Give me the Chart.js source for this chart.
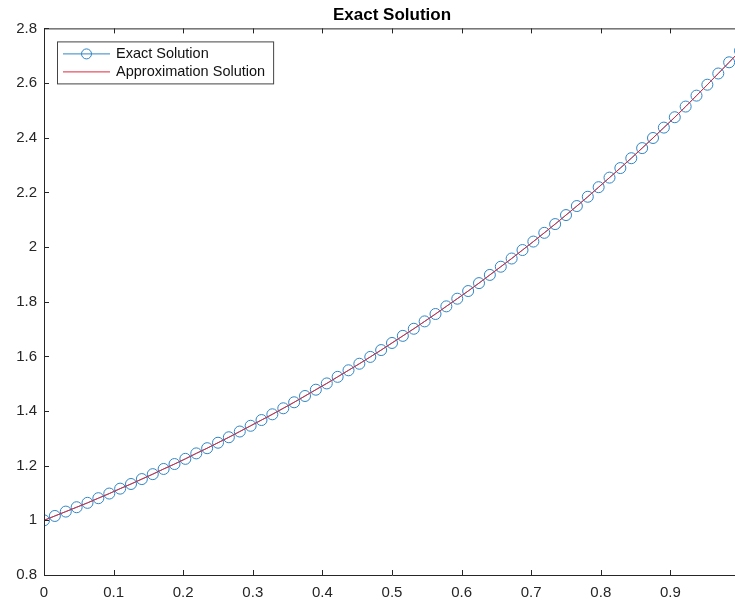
<!DOCTYPE html>
<html>
<head>
<meta charset="utf-8">
<script src="https://cdn.jsdelivr.net/npm/chart.js@4"></script>
<style>
  html, body { margin: 0; padding: 0; background: #fff; overflow: hidden; }
  #wrap { width: 800px; height: 604px; }
</style>
</head>
<body>
<div id="wrap"><canvas id="exactChart" width="800" height="604"></canvas></div>
<script>
// x grid, step 1/64
const xValues = [0, 0.0156, 0.0313, 0.0469, 0.0625, 0.0781, 0.0938, 0.1094, 0.125, 0.1406,
  0.1563, 0.1719, 0.1875, 0.2031, 0.2188, 0.2344, 0.25, 0.2656, 0.2813, 0.2969,
  0.3125, 0.3281, 0.3438, 0.3594, 0.375, 0.3906, 0.4063, 0.4219, 0.4375, 0.4531,
  0.4688, 0.4844, 0.5, 0.5156, 0.5313, 0.5469, 0.5625, 0.5781, 0.5938, 0.6094,
  0.625, 0.6406, 0.6563, 0.6719, 0.6875, 0.7031, 0.7188, 0.7344, 0.75, 0.7656,
  0.7813, 0.7969, 0.8125, 0.8281, 0.8438, 0.8594, 0.875, 0.8906, 0.9063, 0.9219,
  0.9375, 0.9531, 0.9688, 0.9844, 1];

const exactValues = [1.000, 1.016, 1.032, 1.048, 1.064, 1.081, 1.098, 1.116, 1.133, 1.151,
  1.169, 1.188, 1.206, 1.225, 1.245, 1.264, 1.284, 1.304, 1.325, 1.346,
  1.367, 1.388, 1.410, 1.432, 1.455, 1.478, 1.501, 1.525, 1.549, 1.573,
  1.598, 1.623, 1.649, 1.675, 1.701, 1.728, 1.755, 1.783, 1.811, 1.839,
  1.868, 1.898, 1.928, 1.958, 1.989, 2.020, 2.052, 2.084, 2.117, 2.150,
  2.184, 2.219, 2.254, 2.289, 2.325, 2.362, 2.399, 2.437, 2.475, 2.514,
  2.554, 2.594, 2.635, 2.676, 2.718];

const approxValues = [1.000, 1.016, 1.032, 1.048, 1.064, 1.081, 1.098, 1.116, 1.133, 1.151,
  1.169, 1.188, 1.206, 1.225, 1.245, 1.264, 1.284, 1.304, 1.325, 1.346,
  1.367, 1.388, 1.410, 1.432, 1.455, 1.478, 1.501, 1.525, 1.549, 1.573,
  1.598, 1.623, 1.649, 1.675, 1.701, 1.728, 1.755, 1.783, 1.811, 1.839,
  1.868, 1.898, 1.928, 1.958, 1.989, 2.020, 2.052, 2.084, 2.117, 2.150,
  2.184, 2.219, 2.254, 2.289, 2.325, 2.362, 2.399, 2.437, 2.475, 2.514,
  2.554, 2.594, 2.635, 2.676, 2.718];

const xTicks = [0, 0.1, 0.2, 0.3, 0.4, 0.5, 0.6, 0.7, 0.8, 0.9, 1];
const yTicks = [0.8, 1, 1.2, 1.4, 1.6, 1.8, 2, 2.2, 2.4, 2.6, 2.8];

const seriesNames = ["Exact Solution", "Approximation Solution"];
const titleText = "Exact Solution";

const axisColor = "#262626";
const blue = "#2f86c6";
const red = "#e02a3c";
const fontFamily = "'Liberation Sans', Arial, Helvetica, sans-serif";

const toPoints = (ys) => ys.map((y, i) => ({ x: xValues[i], y: y }));

// box around the axes + inward tick marks, like matlab
const axesBox = {
  id: "axesBox",
  afterDatasetsDraw(chart) {
    const { ctx, chartArea: a, scales } = chart;
    const len = 5;
    ctx.save();
    ctx.strokeStyle = axisColor;
    ctx.lineWidth = 1;
    ctx.beginPath();
    ctx.rect(a.left + 0.5, a.top + 0.5, a.right - a.left, a.bottom - a.top);
    xTicks.forEach((t) => {
      const px = Math.round(scales.x.getPixelForValue(t)) + 0.5;
      ctx.moveTo(px, a.bottom);
      ctx.lineTo(px, a.bottom - len);
      ctx.moveTo(px, a.top);
      ctx.lineTo(px, a.top + len);
    });
    yTicks.forEach((t) => {
      const py = Math.round(scales.y.getPixelForValue(t)) + 0.5;
      ctx.moveTo(a.left, py);
      ctx.lineTo(a.left + len, py);
      ctx.moveTo(a.right, py);
      ctx.lineTo(a.right - len, py);
    });
    ctx.stroke();
    ctx.restore();
  },
};

// legend box in the upper left corner
const boxLegend = {
  id: "boxLegend",
  afterDraw(chart) {
    const { ctx, chartArea: a } = chart;
    const x0 = a.left + 13;
    const y0 = a.top + 13;
    const rowH = 18;
    const lineW = 47;
    ctx.save();
    ctx.font = "14.5px " + fontFamily;
    const textW = Math.max(...seriesNames.map((s) => ctx.measureText(s).width));
    const w = 6 + lineW + 6 + textW + 8;
    const h = 3 + rowH * 2 + 3;
    ctx.fillStyle = "#fff";
    ctx.fillRect(x0, y0, w, h);
    ctx.strokeStyle = "#444";
    ctx.lineWidth = 1;
    ctx.strokeRect(x0 + 0.5, y0 + 0.5, w, h);

    const colors = [blue, red];
    seriesNames.forEach((name, i) => {
      const cy = y0 + 3 + rowH * i + rowH / 2;
      ctx.strokeStyle = colors[i];
      ctx.lineWidth = 1;
      ctx.beginPath();
      ctx.moveTo(x0 + 6, cy + 0.5);
      ctx.lineTo(x0 + 6 + lineW, cy + 0.5);
      ctx.stroke();
      if (i === 0) {
        ctx.beginPath();
        ctx.arc(x0 + 6 + lineW / 2, cy + 0.5, 5, 0, Math.PI * 2);
        ctx.stroke();
      }
      ctx.fillStyle = "#111";
      ctx.textBaseline = "middle";
      ctx.fillText(name, x0 + 6 + lineW + 6, cy + 1);
    });
    ctx.restore();
  },
};

const fmt = (v) => String(+Number(v).toFixed(2));

new Chart(document.getElementById("exactChart"), {
  type: "line",
  data: {
    datasets: [
      {
        label: seriesNames[0],
        data: toPoints(exactValues),
        borderColor: blue,
        borderWidth: 1,
        pointRadius: 5.5,
        pointBorderWidth: 1,
        pointBorderColor: blue,
        pointBackgroundColor: "rgba(0,0,0,0)",
        fill: false,
        tension: 0,
        order: 2,
      },
      {
        label: seriesNames[1],
        data: toPoints(approxValues),
        borderColor: red,
        borderWidth: 1,
        pointRadius: 0,
        fill: false,
        tension: 0,
        order: 1,
      },
    ],
  },
  options: {
    responsive: false,
    animation: false,
    events: [],
    layout: { padding: { top: 0, right: 60, bottom: 0, left: 0 } },
    plugins: {
      legend: { display: false },
      tooltip: { enabled: false },
      title: {
        display: true,
        text: titleText,
        fullSize: false,
        color: "#000",
        font: { family: fontFamily, size: 17, weight: "bold", lineHeight: 1.2 },
        padding: { top: 5, bottom: 3 },
      },
    },
    scales: {
      x: {
        type: "linear",
        min: 0,
        max: 1,
        grid: { display: false, drawTicks: false },
        border: { display: false },
        afterBuildTicks: (s) => { s.ticks = xTicks.map((v) => ({ value: v })); },
        afterFit: (s) => { s.height = 29; },
        ticks: {
          color: axisColor,
          padding: 9,
          maxRotation: 0,
          autoSkip: false,
          font: { family: fontFamily, size: 15 },
          callback: fmt,
        },
      },
      y: {
        type: "linear",
        min: 0.8,
        max: 2.8,
        grid: { display: false, drawTicks: false },
        border: { display: false },
        afterBuildTicks: (s) => { s.ticks = yTicks.map((v) => ({ value: v })); },
        afterFit: (s) => { s.width = 44; },
        ticks: {
          color: axisColor,
          padding: 7,
          autoSkip: false,
          font: { family: fontFamily, size: 15 },
          callback: fmt,
        },
      },
    },
  },
  plugins: [axesBox, boxLegend],
});
</script>
</body>
</html>
